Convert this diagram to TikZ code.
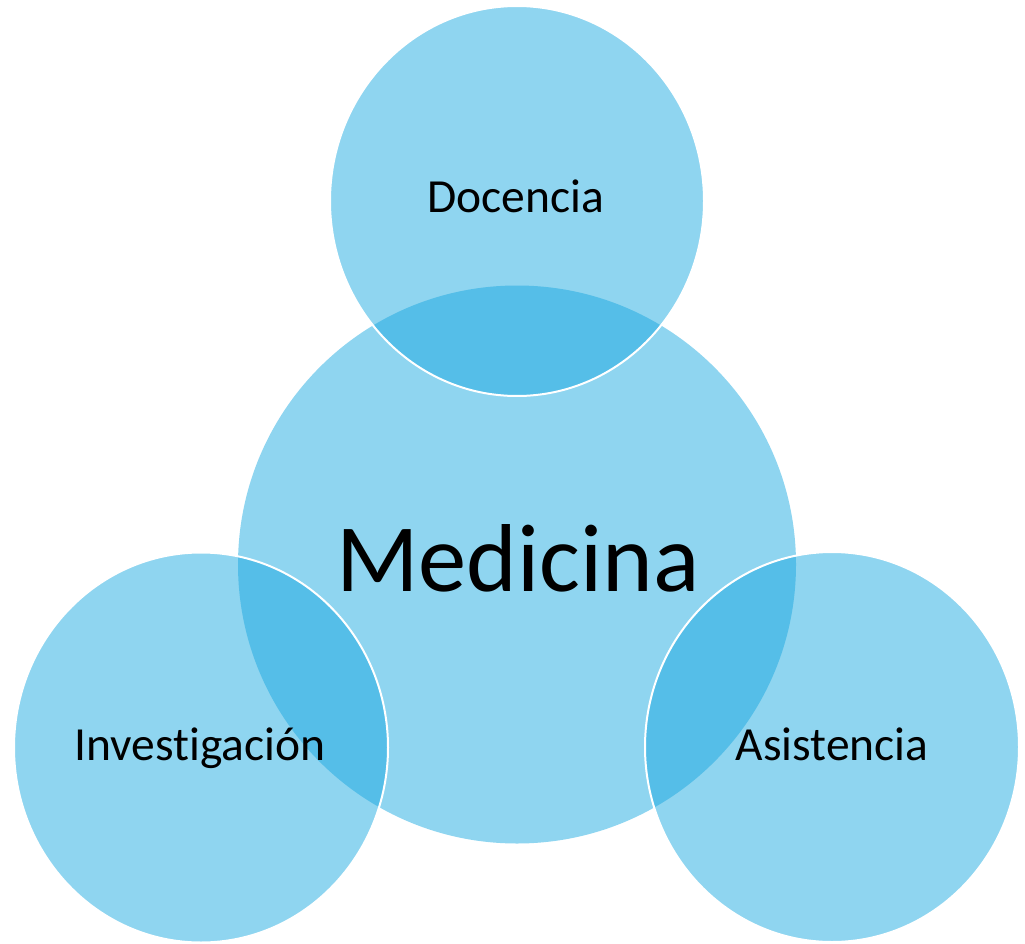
\documentclass[tikz,border=0pt]{standalone}
\usepackage{fontspec}
\setmainfont{Carlito}[Ligatures=NoCommon]
\usetikzlibrary{shapes.geometric}
\definecolor{lightc}{RGB}{143,213,240}
\definecolor{darkc}{RGB}{85,190,232}
\tikzset{
  bigc/.style={circle, fill=lightc, draw=none, inner sep=0pt, minimum size=558pt},
  smallc/.style={ellipse, fill=lightc, draw=none, inner sep=0pt, minimum width=374pt, minimum height=390pt},
  rim/.style={draw=white, line width=2pt},
  lbl/.style={anchor=base, text=black, font=\fontsize{47.5}{56}\selectfont},
  biglbl/.style={anchor=base, text=black, font=\fontsize{96.5}{115}\selectfont}
}
\begin{document}
\begin{tikzpicture}[x=1pt,y=-1pt]
\useasboundingbox (0,0) rectangle (1025,944);
\node[bigc] (med) at (517,564.5) {};
\node[smallc] (doc) at (517,201) {};
\node[smallc] (inv) at (201,747.5) {};
\node[smallc] (asi) at (832,747) {};
\begin{scope}
  \clip (med.center) circle[radius=279pt];
  \fill[darkc] (doc.center) ellipse[x radius=187pt, y radius=195pt];
  \fill[darkc] (inv.center) ellipse[x radius=187pt, y radius=195pt];
  \fill[darkc] (asi.center) ellipse[x radius=187pt, y radius=195pt];
\end{scope}
\draw[rim] (doc.center) ellipse[x radius=187pt, y radius=195pt];
\draw[rim] (inv.center) ellipse[x radius=187pt, y radius=195pt];
\draw[rim] (asi.center) ellipse[x radius=187pt, y radius=195pt];
\node[biglbl] (tmed) at (518,591) {Medicina};
\node[lbl] (tdoc) at (516,213) {Docencia};
\node[lbl] (tinv) at (200,760) {Investigación};
\node[lbl] (tasi) at (832,760) {Asistencia};
\end{tikzpicture}
\end{document}
